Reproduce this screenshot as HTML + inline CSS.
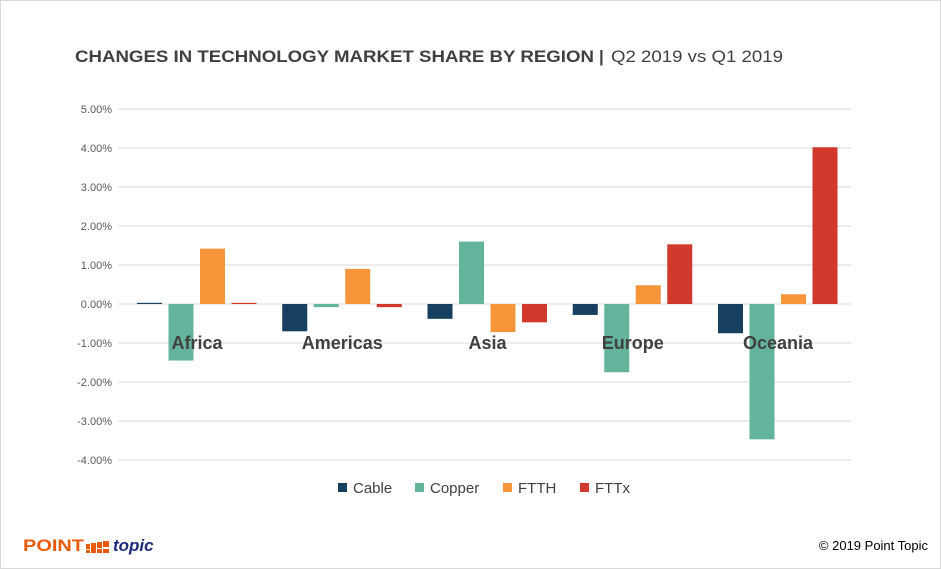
<!DOCTYPE html>
<html><head><meta charset="utf-8"><style>
body{margin:0;background:#fff;}
#wrap{position:relative;width:939px;height:567px;border:1px solid #d9d9d9;background:#fff;font-family:"Liberation Sans",Arial,sans-serif;overflow:hidden;}
</style></head><body>
<div id="wrap">
<svg id="chart" width="939" height="567"></svg>
</div>
<script>
const categories=["Africa","Americas","Asia","Europe","Oceania"];
const seriesNames=["Cable","Copper","FTTH","FTTx"];
const colors=["#173f5f","#64b39d","#f7953b","#d0392b"];
const cable=[0.03,-0.70,-0.38,-0.28,-0.75];
const copper=[-1.45,-0.08,1.60,-1.75,-3.47];
const ftth=[1.42,0.90,-0.72,0.48,0.25];
const fttx=[0.03,-0.08,-0.47,1.53,4.02];
const ticks=[5,4,3,2,1,0,-1,-2,-3,-4];
const series=[cable,copper,ftth,fttx];
const NS="http://www.w3.org/2000/svg";
const svg=document.getElementById('chart');
const x0=117,x1=850,yTop=108,yBot=459,vMax=5,vMin=-4;
const y=v=>yTop+(vMax-v)/(vMax-vMin)*(yBot-yTop);
const gw=145.25;
function mk(t,a,txt){const e=document.createElementNS(NS,t);for(const k in a)e.setAttribute(k,a[k]);if(txt!==undefined)e.textContent=txt;svg.appendChild(e);return e;}
let t=mk('text',{x:74,y:61,'font-size':17,'font-weight':'bold',fill:'#404040'});


t.innerHTML='<tspan textLength="519" lengthAdjust="spacingAndGlyphs">CHANGES IN TECHNOLOGY MARKET SHARE BY REGION</tspan><tspan x="598" font-weight="bold">|</tspan><tspan x="610" font-weight="normal" textLength="172" lengthAdjust="spacingAndGlyphs">Q2 2019 vs Q1 2019</tspan>';
ticks.forEach(v=>{
 const l=mk('line',{x1:x0,x2:x1,y1:y(v),y2:y(v),stroke:'#d9d9d9','stroke-width':1});
 
 
 const tx=mk('text',{x:111,y:y(v)+4,'font-size':11,fill:'#595959','text-anchor':'end'},v.toFixed(2)+'%');
 
 
});
const bw=25,step=31.5,start=136;
categories.forEach((c,i)=>{
 series.forEach((s,j)=>{
  const v=s[i];const bx=start+i*gw+j*step;
  const r=mk('rect',{x:bx,y:Math.min(y(v),y(0)),width:bw,height:Math.max(1,Math.abs(y(v)-y(0))),fill:colors[j]});
  
  
 });
 const lb=mk('text',{x:start+i*gw+60,y:y(-1)+6,'font-size':18,'font-weight':'bold',fill:'#404040','text-anchor':'middle'},c);
 
 
});
const lx=[337,414,502,579];
seriesNames.forEach((n,j)=>{
 const r=mk('rect',{x:lx[j],y:482,width:9,height:9,fill:colors[j]});
 
 
 const tx=mk('text',{x:lx[j]+15,y:492,'font-size':15,fill:'#404040'},n);
 
 
});
let p=mk('text',{x:22,y:550,'font-size':17,'font-weight':'bold',fill:'#e85a0c',textLength:61,lengthAdjust:'spacingAndGlyphs'},'POINT');


[[85,543,4,5],[90,542,5,6],[96,541,5,6],[102,540,6,6],[85,549,4,3],[90,548,5,4],[96,548,5,4],[102,548,6,4]].forEach(b=>{
 const r=mk('rect',{x:b[0],y:b[1],width:b[2],height:b[3],fill:'#e85a0c'});
 
 
});
let tp=mk('text',{x:112,y:550,'font-size':17,'font-weight':'bold','font-style':'italic',fill:'#1b2a7a'},'topic');


let cp=mk('text',{x:927,y:549,'font-size':13,fill:'#000','text-anchor':'end'},'© 2019 Point Topic');


</script>
</body></html>
